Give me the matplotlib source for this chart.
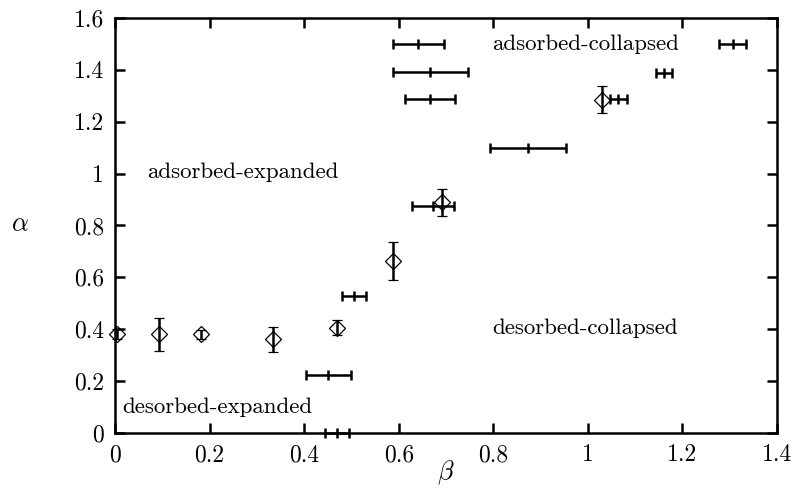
import matplotlib.pyplot as plt
from matplotlib.ticker import FuncFormatter

plt.rcParams['font.family'] = 'cmr10'
plt.rcParams['mathtext.fontset'] = 'cm'
plt.rcParams['axes.formatter.use_mathtext'] = True

# transition points with vertical error bars (diamonds)
beta_v = [0.005, 0.094, 0.182, 0.334, 0.469, 0.587, 0.691, 1.029]
alpha_v = [0.382, 0.38, 0.38, 0.361, 0.406, 0.664, 0.889, 1.284]
alpha_err = [0.02, 0.063, 0.018, 0.047, 0.03, 0.073, 0.053, 0.052]

# transition points with horizontal error bars
beta_h = [0.469, 0.451, 0.506, 0.673, 0.873, 0.666, 0.667, 0.641, 1.064, 1.162, 1.306]
beta_err = [0.025, 0.048, 0.025, 0.045, 0.08, 0.053, 0.08, 0.054, 0.018, 0.017, 0.028]
alpha_h = [0.0, 0.225, 0.529, 0.875, 1.10, 1.288, 1.39, 1.50, 1.288, 1.387, 1.50]

regions = ['adsorbed-collapsed', 'adsorbed-expanded', 'desorbed-collapsed', 'desorbed-expanded']
region_x = [0.797, 0.068, 0.797, 0.015]
region_y = [1.50, 1.006, 0.405, 0.10]

fig = plt.figure(figsize=(7.92, 4.92), dpi=100)
ax = fig.add_axes([0.1452, 0.12, 0.8358, 0.8434])

lw = 1.8
ax.errorbar(beta_h, alpha_h, xerr=beta_err, fmt='|', color='black', ms=7.2, mew=lw,
            elinewidth=lw, capsize=3.6, capthick=lw, clip_on=False)
ax.errorbar(beta_v, alpha_v, yerr=alpha_err, fmt='D', color='black', mfc='none', ms=8.5, mew=0.9,
            elinewidth=lw, capsize=3.6, capthick=lw, clip_on=False)

for name, x, y in zip(regions, region_x, region_y):
    ax.text(x, y, name, fontsize=16.5, ha='left', va='center')

ax.set_xlim(0, 1.4)
ax.set_ylim(0, 1.6)
ax.set_xticks([0, 0.2, 0.4, 0.6, 0.8, 1.0, 1.2, 1.4])
ax.set_yticks([0, 0.2, 0.4, 0.6, 0.8, 1.0, 1.2, 1.4, 1.6])
fmt = FuncFormatter(lambda v, p: f'{v:g}')
ax.xaxis.set_major_formatter(fmt)
ax.yaxis.set_major_formatter(fmt)
ax.tick_params(direction='in', length=7, width=lw, top=True, right=True, labelsize=17)
ax.tick_params(axis='x', pad=8)
ax.tick_params(axis='y', pad=8)
for s in ax.spines.values():
    s.set_linewidth(lw)

ax.set_xlabel(r'$\beta$', fontsize=19)
ax.set_ylabel(r'$\alpha$', fontsize=19, rotation=0, ha='center', va='center')
ax.xaxis.set_label_coords(0.5, -0.06)
ax.yaxis.set_label_coords(-0.143, 0.504)

fig.savefig('out.png', dpi=100)
